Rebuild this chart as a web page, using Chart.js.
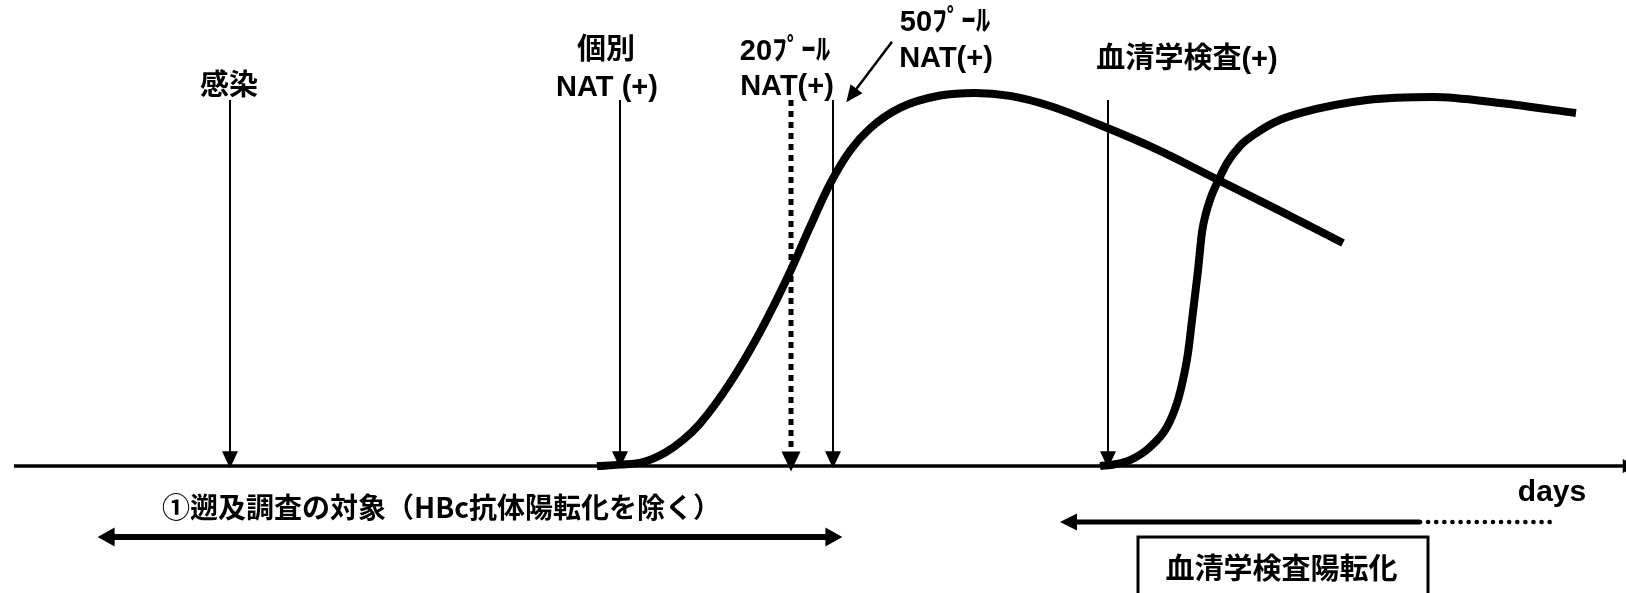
<!DOCTYPE html>
<html lang="ja">
<head>
  <meta charset="UTF-8">
  <title>NAT / 血清学検査 陽転化の模式図</title>
  <script src="https://cdn.jsdelivr.net/npm/chart.js"></script>
  <style>
    body {
      margin: 0;
      background: #fff;
    }
    canvas {
      display: block;
      background: #fff;
    }
  </style>
</head>
<body>
  <canvas id="timeline" width="1626" height="593"></canvas>

  <script>
    // days on x, relative level on y (peak of the NAT curve = 100)
    const viralDays  = [59.7, 62.0, 64.3, 66.5, 68.3, 70.0, 73.0, 76.0, 79.0, 81.0, 83.0, 85.0, 87.0, 90.0, 94.0, 97.5, 101.0, 105.0, 110.0, 116.0, 121.8, 128.0, 134.3];
    const viralLevel = [0,    0.4,  1.1,  3.6,  7.0,  11.4, 22.3, 35.9, 52.0, 64.1, 75.6, 84.5, 90.5, 96.0, 99.3, 100,  99.2,  96.5,  91.4,  84.5,  76.7,  68.4,  59.8];

    const antibodyDays  = [110.0, 111.5, 113.0, 115.0, 116.7, 117.7, 118.3, 118.8, 119.2, 119.6, 119.8, 120.2, 120.6, 121.1, 121.8, 122.7, 124.0, 125.5, 127.5, 130.0, 136.7, 143.3, 150.0, 157.6];
    const antibodyLevel = [0,     0.5,   1.6,   5.1,   10.5,  16.9,  23.1,  30.3,  39.1,  48.0,  52.5,  62.7,  67.8,  72.1,  76.4,  81.2,  85.8,  89.0,  92.2,  94.6,  98.1,  98.9,  97.3,  94.6];

    // detection points (vertical arrows)
    const markerNames = ['感染', '個別NAT', '20プールNAT', '50プールNAT', '血清学検査'];
    const markerDays  = [23.0, 62.0, 79.1, 83.3, 110.8];
    const markerTop   = 98.1;

    // range arrows under the axis
    const lookbackRange   = [10.3, 83.7];   // ① 遡及調査の対象
    const seroSolidRange  = [106.5, 142.0]; // 血清学検査陽転化 (solid)
    const seroDottedRange = [142.0, 155.2]; // continues dotted
    const seroBox         = [113.8, 142.8];

    const labelTexts  = ['感染', '個別', 'NAT (+)', '20ﾌﾟｰﾙ', 'NAT(+)', '50ﾌﾟｰﾙ', 'NAT(+)', '血清学検査(+)', 'days', '①遡及調査の対象（HBc抗体陽転化を除く）', '血清学検査陽転化'];
    const labelDays   = [22.9, 60.6, 60.7, 78.5, 78.7, 94.5, 94.6, 118.7, 155.2, 44.15, 128.15];
    const labelLevels = [101.6, 111.3, 101.3, 110.9, 101.5, 118.8, 109.0, 108.8, -7.2, -11.0, -27.3];

    const toPoints = (xs, ys) => xs.map((x, i) => ({ x: x, y: ys[i] }));

    const boldLabel = 'bold 29px "Liberation Sans", "Noto Sans CJK JP", sans-serif';
    const labelFonts = [boldLabel, boldLabel, boldLabel, boldLabel, boldLabel, boldLabel, boldLabel, boldLabel,
      'bold 30px "Liberation Sans", sans-serif',
      'bold 28px "Noto Sans CJK JP", sans-serif',
      'bold 29px "Noto Sans CJK JP", sans-serif'];

    function lineSet(points, width, extra) {
      return Object.assign({
        data: points,
        borderColor: '#000',
        borderWidth: width,
        pointRadius: 0,
        fill: false,
        tension: 0
      }, extra || {});
    }

    const datasets = [];
    // time axis
    datasets.push(lineSet([{ x: 1.4, y: 0 }, { x: 163.4, y: 0 }], 3.5, { arrow: { end: true, len: 15, w: 14 } }));
    // NAT curve and antibody curve
    datasets.push(lineSet(toPoints(viralDays, viralLevel), 8, { cubicInterpolationMode: 'monotone' }));
    datasets.push(lineSet(toPoints(antibodyDays, antibodyLevel), 8, { cubicInterpolationMode: 'monotone' }));
    // vertical markers
    markerDays.forEach((d, i) => {
      const dashed = markerNames[i] === '20プールNAT';
      datasets.push(lineSet([{ x: d, y: markerTop }, { x: d, y: 0 }], dashed ? 5 : 2,
        dashed ? { borderDash: [6, 5], arrow: { end: true, len: 20, w: 19 } }
               : { arrow: { end: true, len: 17, w: 16 } }));
    });
    // pointer to the 50-pool line
    datasets.push(lineSet([{ x: 89.2, y: 113.7 }, { x: 84.8, y: 98.1 }], 2.5, { arrow: { end: true, len: 17, w: 15 } }));
    // range arrows
    datasets.push(lineSet([{ x: lookbackRange[0], y: -19 }, { x: lookbackRange[1], y: -19 }], 6,
      { arrow: { start: true, end: true, len: 17, w: 19 } }));
    datasets.push(lineSet([{ x: seroSolidRange[1], y: -15 }, { x: seroSolidRange[0], y: -15 }], 5,
      { arrow: { end: true, len: 17, w: 17 } }));
    datasets.push(lineSet([{ x: seroDottedRange[0], y: -15 }, { x: seroDottedRange[1], y: -15 }], 4.5,
      { borderDash: [0.1, 8], borderCapStyle: 'round' }));

    function drawHead(ctx, from, to, a, bw) {
      const dx = to.x - from.x, dy = to.y - from.y;
      const L = Math.hypot(dx, dy) || 1;
      const ux = dx / L, uy = dy / L;
      const over = bw * a.len / a.w;
      const tx = to.x + ux * over, ty = to.y + uy * over;
      const bx = tx - ux * a.len, by = ty - uy * a.len;
      ctx.beginPath();
      ctx.moveTo(tx, ty);
      ctx.lineTo(bx - uy * a.w / 2, by + ux * a.w / 2);
      ctx.lineTo(bx + uy * a.w / 2, by - ux * a.w / 2);
      ctx.closePath();
      ctx.fill();
    }

    const sketchPlugin = {
      id: 'sketch',
      afterDatasetsDraw(chart) {
        const ctx = chart.ctx;
        const xs = chart.scales.x, ys = chart.scales.y;
        ctx.save();
        ctx.fillStyle = '#000';
        ctx.strokeStyle = '#000';

        // arrow heads
        chart.data.datasets.forEach((ds, i) => {
          if (!ds.arrow) return;
          const pts = chart.getDatasetMeta(i).data;
          const n = pts.length;
          if (ds.arrow.end) drawHead(ctx, pts[n - 2], pts[n - 1], ds.arrow, ds.borderWidth);
          if (ds.arrow.start) drawHead(ctx, pts[1], pts[0], ds.arrow, ds.borderWidth);
        });

        // box round 血清学検査陽転化
        const bx0 = xs.getPixelForValue(seroBox[0]);
        const bx1 = xs.getPixelForValue(seroBox[1]);
        const by0 = ys.getPixelForValue(-19);
        ctx.lineWidth = 3;
        ctx.strokeRect(bx0, by0, bx1 - bx0, chart.height - by0 + 10);

        // labels
        ctx.textAlign = 'center';
        ctx.textBaseline = 'middle';
        labelTexts.forEach((t, i) => {
          ctx.font = labelFonts[i];
          ctx.fillText(t, xs.getPixelForValue(labelDays[i]), ys.getPixelForValue(labelLevels[i]));
        });
        ctx.restore();
      }
    };

    new Chart(document.getElementById('timeline'), {
      type: 'line',
      data: { datasets: datasets },
      options: {
        responsive: false,
        animation: false,
        events: [],
        layout: { padding: 0 },
        plugins: { legend: { display: false }, tooltip: { enabled: false } },
        scales: {
          x: { type: 'linear', min: 0, max: 162.6, display: false },
          y: { type: 'linear', min: -34, max: 124.9, display: false }
        }
      },
      plugins: [sketchPlugin]
    });
  </script>
</body>
</html>
